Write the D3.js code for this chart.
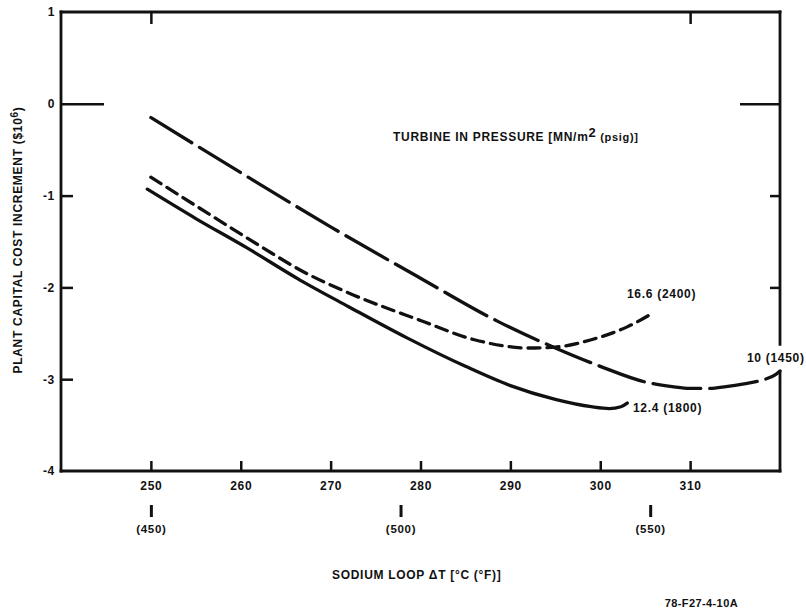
<!DOCTYPE html>
<html>
<head>
<meta charset="utf-8">
<script src="https://cdn.jsdelivr.net/npm/d3@7"></script>
<style>
  body { margin: 0; background: #fff; }
  text { font-family: "Liberation Sans", Arial, sans-serif; font-weight: bold; fill: #111; letter-spacing: 0.7px; }
</style>
</head>
<body>
<div id="chart"></div>
<script>
// data: sodium loop dT (degC) vs cost increment ($10^6)
const xTicks = [250, 260, 270, 280, 290, 300, 310]
const fTicks = [450, 500, 550]
const yTicks = [1, 0, -1, -2, -3, -4]

// 10 MN/m2 (1450 psig), long dash
const p10X = [250, 260, 270, 280, 288.6, 295, 300, 305, 308, 310, 312, 314, 316, 318, 319.5, 320]
const p10Y = [-0.15, -0.75, -1.34, -1.9, -2.37, -2.66, -2.86, -3.03, -3.08, -3.1, -3.1, -3.08, -3.05, -3.01, -2.95, -2.91]

// 12.4 MN/m2 (1800 psig), solid
const p124X = [249.6, 255, 260.7, 266.6, 272, 278.5, 285, 290, 295, 299, 301, 302.3, 303]
const p124Y = [-0.93, -1.25, -1.57, -1.92, -2.21, -2.55, -2.86, -3.07, -3.22, -3.3, -3.32, -3.3, -3.26]

// 16.6 MN/m2 (2400 psig), short dash
const p166X = [250, 255, 262.5, 266.6, 272, 280, 286, 292, 295, 299, 303, 306]
const p166Y = [-0.8, -1.11, -1.57, -1.81, -2.06, -2.36, -2.57, -2.66, -2.65, -2.57, -2.43, -2.27]

const series = [
  { x: p10X, y: p10Y, dash: '48,9', label: '10 (1450)', lx: 747, ly: 362 },
  { x: p124X, y: p124Y, dash: null, label: '12.4 (1800)', lx: 633, ly: 412 },
  { x: p166X, y: p166Y, dash: '12,7', label: '16.6 (2400)', lx: 627, ly: 298 },
]

const width = 806, height = 611
const mLeft = 61, mRight = 780, mTop = 12, mBottom = 471

const svg = d3.select('#chart').append('svg')
  .attr('width', width)
  .attr('height', height)

const x = d3.scaleLinear().domain([240, 320]).range([mLeft, mRight])
const xF = d3.scaleLinear().domain([240 * 1.8, 320 * 1.8]).range([mLeft, mRight])
const y = d3.scaleLinear().domain([-4, 1]).range([mBottom, mTop])

const tickStroke = (g, w) => g.selectAll('.tick line').attr('stroke', '#111').attr('stroke-width', w)

// bottom axis, ticks pointing inside
svg.append('g')
  .attr('transform', `translate(0,${mBottom})`)
  .call(d3.axisBottom(x).tickValues(xTicks).tickSizeInner(-10).tickSizeOuter(0).tickPadding(10))
  .call(g => g.select('.domain').remove())
  .call(g => tickStroke(g, 2.5))
  .call(g => g.selectAll('text').attr('font-size', 12).attr('font-family', null))

// top axis, two ticks only
svg.append('g')
  .attr('transform', `translate(0,${mTop})`)
  .call(d3.axisTop(x).tickValues([250, 310]).tickSizeInner(-12).tickSizeOuter(0).tickFormat(''))
  .call(g => g.select('.domain').remove())
  .call(g => tickStroke(g, 2.5))

// left axis
svg.append('g')
  .attr('transform', `translate(${mLeft},0)`)
  .call(d3.axisLeft(y).tickValues(yTicks).tickSizeInner(-12).tickSizeOuter(0).tickPadding(6)
    .tickFormat(d => d < 0 ? '-' + Math.abs(d) : d))
  .call(g => g.select('.domain').remove())
  .call(g => tickStroke(g, 2.5))
  .call(g => g.selectAll('.tick').filter(d => d === 1 || d === -4).select('line').remove())
  .call(g => g.selectAll('.tick').filter(d => d === 0).select('line').attr('x2', 43))
  .call(g => g.selectAll('text').attr('font-size', 12).attr('font-family', null))

// right axis, no labels
svg.append('g')
  .attr('transform', `translate(${mRight},0)`)
  .call(d3.axisRight(y).tickValues([0, -1, -2]).tickSizeInner(-10).tickSizeOuter(0).tickFormat(''))
  .call(g => g.select('.domain').remove())
  .call(g => tickStroke(g, 2.5))
  .call(g => g.selectAll('.tick').filter(d => d === 0).select('line').attr('x2', -40))

// frame (right side broken for the curve label)
const frame = [
  [[mLeft, mTop], [mRight, mTop]],
  [[mLeft, mTop], [mLeft, mBottom]],
  [[mLeft, mBottom], [mRight, mBottom]],
  [[mRight, mTop], [mRight, y(-2.62)]],
  [[mRight, y(-2.92)], [mRight, mBottom]],
]
svg.append('g')
  .attr('stroke', '#111')
  .attr('stroke-width', 2.8)
  .attr('stroke-linecap', 'square')
  .selectAll('line')
  .data(frame)
  .join('line')
  .attr('x1', d => d[0][0]).attr('y1', d => d[0][1])
  .attr('x2', d => d[1][0]).attr('y2', d => d[1][1])

// secondary degF scale below
svg.append('g')
  .attr('transform', 'translate(0,505)')
  .call(d3.axisBottom(xF).tickValues(fTicks).tickSizeInner(12).tickSizeOuter(0).tickPadding(8)
    .tickFormat(d => `(${d})`))
  .call(g => g.select('.domain').remove())
  .call(g => tickStroke(g, 3))
  .call(g => g.selectAll('text').attr('font-size', 11.5).attr('font-family', null))

// curves
const line = d3.line().curve(d3.curveMonotoneX)
svg.append('g')
  .attr('fill', 'none')
  .attr('stroke', '#111')
  .attr('stroke-width', 3.3)
  .attr('stroke-linecap', 'round')
  .selectAll('path')
  .data(series)
  .join('path')
  .attr('stroke-dasharray', d => d.dash)
  .attr('d', d => line(d.x.map((v, i) => [x(v), y(d.y[i])])))

svg.append('g')
  .selectAll('text')
  .data(series)
  .join('text')
  .attr('x', d => d.lx)
  .attr('y', d => d.ly)
  .attr('font-size', 12)
  .text(d => d.label)

// legend heading
const head = svg.append('text')
  .attr('x', 393)
  .attr('y', 141)
  .attr('font-size', 12)
head.append('tspan').text('TURBINE IN PRESSURE [MN/m')
head.append('tspan').attr('dy', -4).attr('font-size', 13).text('2')
head.append('tspan').attr('dy', 4).attr('font-size', 11).text(' (psig)]')

// axis titles
const yt = svg.append('text')
  .attr('transform', 'translate(22,240) rotate(-90)')
  .attr('text-anchor', 'middle')
  .attr('font-size', 12)
yt.append('tspan').text('PLANT CAPITAL COST INCREMENT ($10')
yt.append('tspan').attr('dy', -4).attr('font-size', 10).text('6')
yt.append('tspan').attr('dy', 4).text(')')

svg.append('text')
  .attr('x', 332)
  .attr('y', 579)
  .attr('font-size', 12)
  .text('SODIUM LOOP ΔT [°C (°F)]')

svg.append('text')
  .attr('x', 738)
  .attr('y', 607)
  .attr('text-anchor', 'end')
  .attr('font-size', 11)
  .style('letter-spacing', '0.4px')
  .text('78-F27-4-10A')
</script>
</body>
</html>
